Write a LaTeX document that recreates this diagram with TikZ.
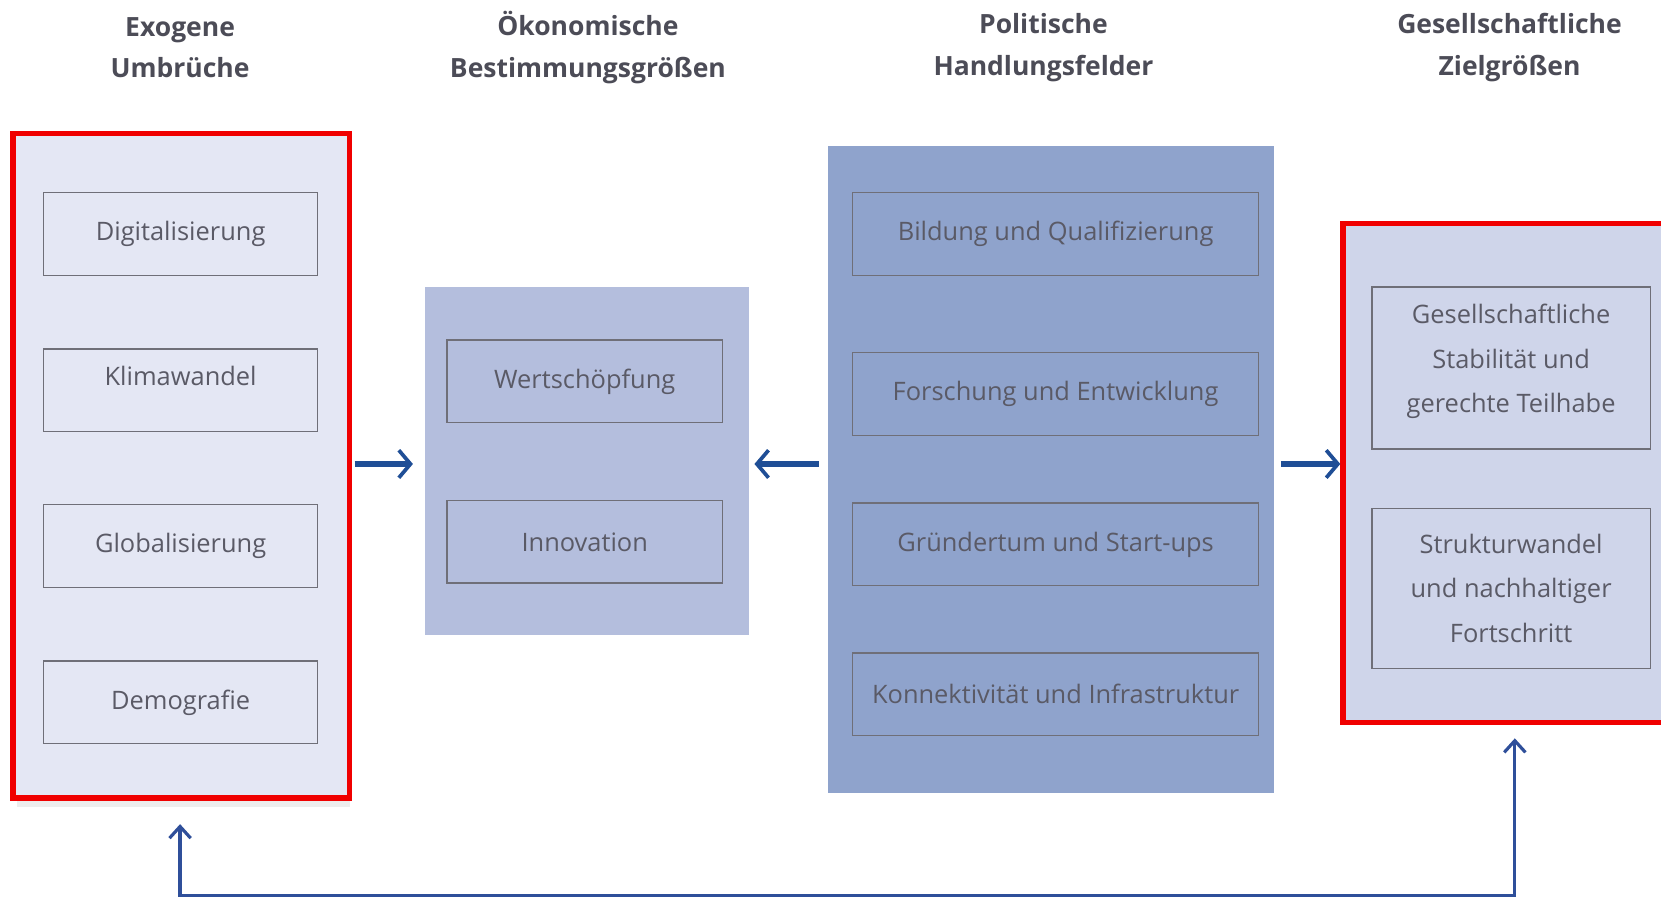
\documentclass[tikz,border=0pt]{standalone}
\usepackage{fontspec}
\setmainfont{Open Sans}
\usetikzlibrary{arrows.meta}
\definecolor{lpfill}{HTML}{E4E7F4}
\definecolor{mpfill}{HTML}{B4BEDD}
\definecolor{ppfill}{HTML}{8FA3CC}
\definecolor{rpfill}{HTML}{CFD5EA}
\definecolor{redb}{HTML}{F00000}
\definecolor{boxline}{HTML}{6F6F78}
\definecolor{txt}{HTML}{5A5A66}
\definecolor{arr}{HTML}{1F4E96}
\definecolor{arr2}{HTML}{2F4F9A}
\begin{document}
\begin{tikzpicture}[x=1pt,y=-1pt,
  title/.style={font=\fontsize{25}{39}\selectfont\bfseries, text=txt!85!black, align=center},
  panel/.style={draw=none, inner sep=0pt},
  redpanel/.style={draw=redb, line width=5.5pt, inner sep=0pt},
  itembox/.style={draw=boxline, line width=1.3pt, inner sep=0pt, align=center,
    text=txt, font=\fontsize{24}{42}\selectfont},
  flow/.style={draw=arr, line width=5pt, -{Straight Barb[length=11pt,width=26pt,line width=3.5pt]}},
  loop/.style={draw=arr2, line width=3pt, {Straight Barb[length=11pt,width=20pt,line width=3pt]}-{Straight Barb[length=11pt,width=20pt,line width=3pt]}}
]
\useasboundingbox (0,0) rectangle (1568,848);
\clip (0,0) rectangle (1568,848);
\fill[white] (0,0) rectangle (1568,848);

% titles
\node[title] (t1) at (170,45) {Exogene\\Umbrüche};
\node[title] (t2) at (555,45) {Ökonomische\\Bestimmungsgrößen};
\node[title] (t3) at (985,45) {Politische\\Handlungsfelder};
\node[title] (t4) at (1425,45) {Gesellschaftliche\\Zielgrößen};

% panels
\fill[black!20, opacity=0.35] (16,756) rectangle (330,762);
\node[redpanel, fill=lpfill, minimum width=318pt, minimum height=627pt] (lp) at (171,439.5) {};
\node[panel, fill=mpfill, minimum width=306pt, minimum height=328pt] (mp) at (554,435) {};
\node[panel, fill=ppfill, minimum width=421pt, minimum height=611pt] (pp) at (992.5,443.5) {};
\node[redpanel, fill=rpfill, minimum width=352pt, minimum height=471pt] (rp) at (1444,446.5) {};

% left boxes
\node[itembox, minimum width=259pt, minimum height=78pt] (l1) at (170.5,221) {Digitalisierung};
\node[itembox, minimum width=259pt, minimum height=78pt, text depth=28pt] (l2) at (170.5,368.5) {Klimawandel};
\node[itembox, minimum width=259pt, minimum height=78pt] (l3) at (170.5,515.5) {Globalisierung};
\node[itembox, minimum width=259pt, minimum height=78pt] (l4) at (170.5,663) {Demografie};

% middle boxes
\node[itembox, minimum width=260pt, minimum height=78pt] (m1) at (552,360) {Wertschöpfung};
\node[itembox, minimum width=260pt, minimum height=78pt] (m2) at (552,511.5) {Innovation};

% politics boxes
\node[itembox, minimum width=383pt, minimum height=78pt] (p1) at (996.5,221) {Bildung und Qualifizierung};
\node[itembox, minimum width=383pt, minimum height=78pt] (p2) at (996.5,372) {Forschung und Entwicklung};
\node[itembox, minimum width=383pt, minimum height=78pt] (p3) at (996.5,514) {Gründertum und Start-ups};
\node[itembox, minimum width=383pt, minimum height=78pt] (p4) at (996.5,655.5) {Konnektivität und Infrastruktur};

% right boxes
\node[itembox, minimum width=263pt, minimum height=153pt, text depth=18pt] (r1) at (1426.5,347.5) {Gesellschaftliche\\Stabilität und\\gerechte Teilhabe};
\node[itembox, minimum width=263pt, minimum height=151pt] (r2) at (1426.5,555.5) {Strukturwandel\\und nachhaltiger\\Fortschritt};

% connectors
\draw[flow] ([xshift=2pt]lp.east |- 0,438) -- ([xshift=-11pt]mp.west |- 0,438);
\draw[flow] ([xshift=-9pt]pp.west |- 0,438) -- ([xshift=5pt]mp.east |- 0,438);
\draw[flow] ([xshift=6pt]pp.east |- 0,438) -- (rp.west |- 0,438);

\coordinate (b1) at (170,845);
\coordinate (b2) at (1430,845);
\draw[loop] (170,778) -- (b1) -- (b2) -- (1430,697);
\end{tikzpicture}
\end{document}
